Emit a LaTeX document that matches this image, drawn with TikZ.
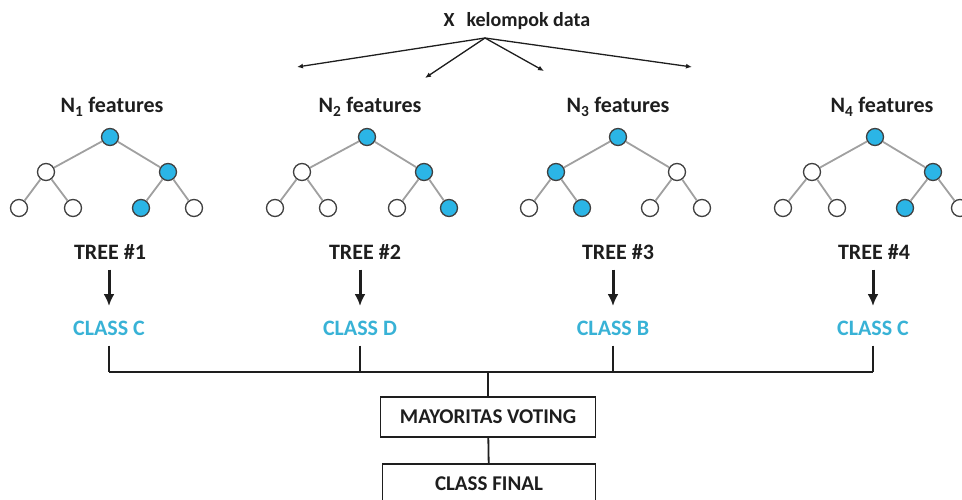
\documentclass[tikz,border=0pt]{standalone}
\usepackage{fontspec}
\setmainfont{Carlito}
\usepackage{xcolor}
\usepackage{tikz}
\usetikzlibrary{arrows.meta, positioning}
\definecolor{nodeblue}{HTML}{2BB5E6}
\definecolor{classblue}{HTML}{38B2D6}
\definecolor{edgegray}{HTML}{A0A0A0}
\definecolor{ink}{HTML}{1E1E1E}

\begin{document}
\begin{tikzpicture}[x=1pt, y=-1pt, on grid, >=Latex]
  \tikzstyle{vtx}=[circle, draw=ink!85, line width=1.3pt, minimum size=17pt,
                   inner sep=0pt, fill=white]
  \tikzstyle{hit}=[vtx, fill=nodeblue]
  \tikzstyle{edge}=[draw=edgegray, line width=1.8pt]
  \tikzstyle{lbl}=[anchor=base, text=ink, font=\fontsize{22}{24}\selectfont\bfseries]
  \tikzstyle{cls}=[lbl, text=classblue]
  \tikzstyle{box}=[rectangle, draw=ink, line width=1.4pt, minimum width=215pt,
                   minimum height=40pt, text=ink, font=\fontsize{21}{23}\selectfont\bfseries]
  \tikzstyle{fan}=[-{Latex[length=6pt, width=5pt]}, line width=1.3pt, color=ink]
  \tikzstyle{down}=[-{Latex[length=12pt, width=11pt]}, line width=3pt, color=ink]
  \tikzstyle{bus}=[line width=1.8pt, color=ink]

  \useasboundingbox (0,0) rectangle (962,500);

  % data set and the fan of samples
  \node[anchor=base west, text=ink, font=\fontsize{20}{22}\selectfont\bfseries]
    (data) at (440,27) {X\hspace{12pt}kelompok data};
  \coordinate (src) at (485,38);
  \coordinate (s1) at (297,67);
  \coordinate (s2) at (425,78);
  \coordinate (s3) at (544,71);
  \coordinate (s4) at (692,67);
  \draw[fan] (src) -- (s1);
  \draw[fan] (src) -- (s2);
  \draw[fan] (src) -- (s3);
  \draw[fan] (src) -- (s4);

  \node[lbl] (f1) at (112,113) {N\textsubscript{1} features};
  \node[lbl] (f2) at (370,113) {N\textsubscript{2} features};
  \node[lbl] (f3) at (618,113) {N\textsubscript{3} features};
  \node[lbl] (f4) at (882,113) {N\textsubscript{4} features};

  % tree 1
  \node[hit] (r1) at (110,137) {};
  \node[vtx, below left=35pt and 64pt of r1] (a1) {};
  \node[hit, below right=35pt and 58pt of r1] (b1) {};
  \node[vtx, below left=36pt and 27pt of a1] (a1l) {};
  \node[vtx, below right=36pt and 27pt of a1] (a1r) {};
  \node[hit, below left=36pt and 27pt of b1] (b1l) {};
  \node[vtx, below right=36pt and 26pt of b1] (b1r) {};
  \draw[edge] (r1)--(a1) (r1)--(b1) (a1)--(a1l) (a1)--(a1r) (b1)--(b1l) (b1)--(b1r);

  % tree 2
  \node[hit] (r2) at (367,137) {};
  \node[vtx, below left=35pt and 65pt of r2] (a2) {};
  \node[hit, below right=35pt and 57pt of r2] (b2) {};
  \node[vtx, below left=36pt and 27pt of a2] (a2l) {};
  \node[vtx, below right=36pt and 26pt of a2] (a2r) {};
  \node[vtx, below left=36pt and 27pt of b2] (b2l) {};
  \node[hit, below right=36pt and 25pt of b2] (b2r) {};
  \draw[edge] (r2)--(a2) (r2)--(b2) (a2)--(a2l) (a2)--(a2r) (b2)--(b2l) (b2)--(b2r);

  % tree 3
  \node[hit] (r3) at (618,137) {};
  \node[hit, below left=35pt and 62pt of r3] (a3) {};
  \node[vtx, below right=35pt and 59pt of r3] (b3) {};
  \node[vtx, below left=36pt and 27pt of a3] (a3l) {};
  \node[hit, below right=36pt and 26pt of a3] (a3r) {};
  \node[vtx, below left=36pt and 27pt of b3] (b3l) {};
  \node[vtx, below right=36pt and 25pt of b3] (b3r) {};
  \draw[edge] (r3)--(a3) (r3)--(b3) (a3)--(a3l) (a3)--(a3r) (b3)--(b3l) (b3)--(b3r);

  % tree 4
  \node[hit] (r4) at (875,137) {};
  \node[vtx, below left=35pt and 63pt of r4] (a4) {};
  \node[hit, below right=35pt and 58pt of r4] (b4) {};
  \node[vtx, below left=36pt and 29pt of a4] (a4l) {};
  \node[vtx, below right=36pt and 25pt of a4] (a4r) {};
  \node[hit, below left=36pt and 28pt of b4] (b4l) {};
  \node[vtx, below right=36pt and 27pt of b4] (b4r) {};
  \draw[edge] (r4)--(a4) (r4)--(b4) (a4)--(a4l) (a4)--(a4r) (b4)--(b4l) (b4)--(b4r);

  % votes of the single trees
  \node[lbl] (t1) at (110,259) {TREE \#1};
  \node[lbl] (t2) at (365,259) {TREE \#2};
  \node[lbl] (t3) at (618,259) {TREE \#3};
  \node[lbl] (t4) at (874,259) {TREE \#4};
  \node[cls] (c1) at (109,335) {CLASS C};
  \node[cls] (c2) at (360,335) {CLASS D};
  \node[cls] (c3) at (613,335) {CLASS B};
  \node[cls] (c4) at (873,335) {CLASS C};
  \draw[down, shorten <=7pt, shorten >=11pt] (t1.south -| c1) -- (c1);
  \draw[down, shorten <=7pt, shorten >=11pt] (t2.south -| c2) -- (c2);
  \draw[down, shorten <=7pt, shorten >=11pt] (t3.south -| c3) -- (c3);
  \draw[down, shorten <=7pt, shorten >=11pt] (t4.south -| c4) -- (c4);

  % collecting the votes
  \coordinate (j) at (488,372);
  \draw[bus, shorten <=7pt] (c1.south) -- (c1.south |- j);
  \draw[bus, shorten <=7pt] (c2.south) -- (c2.south |- j);
  \draw[bus, shorten <=7pt] (c3.south) -- (c3.south |- j);
  \draw[bus, shorten <=7pt] (c4.south) -- (c4.south |- j);
  \draw[bus] (c1.south |- j) -- (c4.south |- j);

  \node[box] (vote) at (488,417) {MAYORITAS VOTING};
  \node[box, minimum width=213pt] (final) at (489,484) {CLASS FINAL};
  \draw[bus] (j) -- (vote);
  \draw[bus] (vote) -- (final);
\end{tikzpicture}
\end{document}
